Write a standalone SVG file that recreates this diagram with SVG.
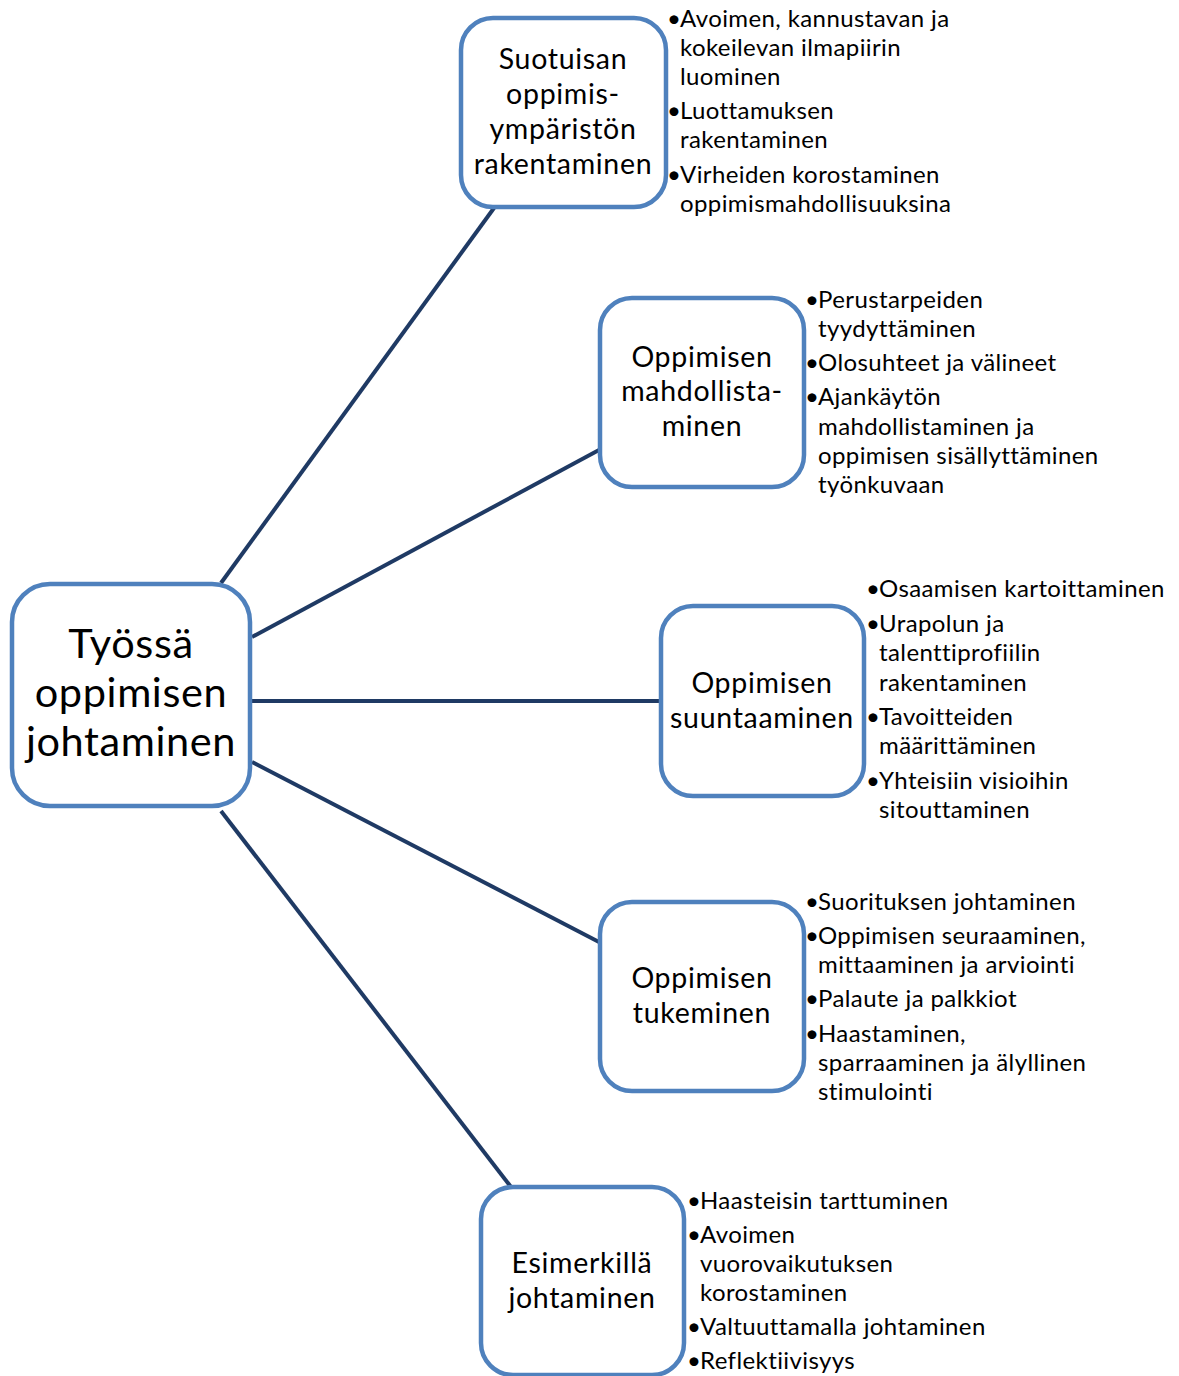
<svg xmlns="http://www.w3.org/2000/svg" width="1179" height="1376" viewBox="0 0 1179 1376">
  <style>
    .box { fill: #ffffff; stroke: #4f81bd; stroke-width: 4.5; }
    .link { stroke: #1f3a64; stroke-width: 4; fill: none; }
    .hub { font-family: Lato, "Liberation Sans", sans-serif; font-size: 41.5px; letter-spacing: 0.6px; fill: #000; text-anchor: middle; }
    .title { font-family: Lato, "Liberation Sans", sans-serif; font-size: 28.5px; letter-spacing: 0.7px; fill: #000; text-anchor: middle; }
    .item { font-family: Lato, "Liberation Sans", sans-serif; font-size: 24px; letter-spacing: 0.4px; fill: #000; }
  </style>
  <rect width="1179" height="1376" fill="#ffffff"/>

  <g id="connectors">
    <line class="link" x1="221" y1="583" x2="494" y2="208"/>
    <line class="link" x1="252" y1="637" x2="599" y2="450"/>
    <line class="link" x1="252" y1="701" x2="660" y2="701"/>
    <line class="link" x1="252" y1="762" x2="599" y2="942"/>
    <line class="link" x1="221" y1="811" x2="511" y2="1187"/>
  </g>

  <g id="hub">
    <rect class="box" x="12" y="584" width="238" height="222" rx="38"/>
    <text class="hub" x="131" y="658">Työssä</text>
    <text class="hub" x="131" y="707">oppimisen</text>
    <text class="hub" x="131" y="756">johtaminen</text>
  </g>

  <g id="node-ymparisto">
    <rect class="box" x="461" y="18" width="205" height="189" rx="32"/>
    <text class="title" x="563" y="69">Suotuisan</text>
    <text class="title" x="563" y="104">oppimis-</text>
    <text class="title" x="563" y="139">ympäristön</text>
    <text class="title" x="563" y="174">rakentaminen</text>
    <g class="item">
      <text x="667" y="27">•</text><text x="680" y="27">Avoimen, kannustavan ja</text>
      <text x="680" y="56">kokeilevan ilmapiirin</text>
      <text x="680" y="85">luominen</text>
      <text x="667" y="119">•</text><text x="680" y="119">Luottamuksen</text>
      <text x="680" y="148">rakentaminen</text>
      <text x="667" y="183">•</text><text x="680" y="183">Virheiden korostaminen</text>
      <text x="680" y="212">oppimismahdollisuuksina</text>
    </g>
  </g>

  <g id="node-mahdollistaminen">
    <rect class="box" x="600" y="298" width="204" height="189" rx="32"/>
    <text class="title" x="702" y="367">Oppimisen</text>
    <text class="title" x="702" y="401">mahdollista-</text>
    <text class="title" x="702" y="436">minen</text>
    <g class="item">
      <text x="805" y="308">•</text><text x="818" y="308">Perustarpeiden</text>
      <text x="818" y="337">tyydyttäminen</text>
      <text x="805" y="371">•</text><text x="818" y="371">Olosuhteet ja välineet</text>
      <text x="805" y="405">•</text><text x="818" y="405">Ajankäytön</text>
      <text x="818" y="435">mahdollistaminen ja</text>
      <text x="818" y="464">oppimisen sisällyttäminen</text>
      <text x="818" y="493">työnkuvaan</text>
    </g>
  </g>

  <g id="node-suuntaaminen">
    <rect class="box" x="661" y="606" width="203" height="190" rx="32"/>
    <text class="title" x="762" y="693">Oppimisen</text>
    <text class="title" x="762" y="728">suuntaaminen</text>
    <g class="item">
      <text x="866" y="597">•</text><text x="879" y="597">Osaamisen kartoittaminen</text>
      <text x="866" y="632">•</text><text x="879" y="632">Urapolun ja</text>
      <text x="879" y="661">talenttiprofiilin</text>
      <text x="879" y="691">rakentaminen</text>
      <text x="866" y="725">•</text><text x="879" y="725">Tavoitteiden</text>
      <text x="879" y="754">määrittäminen</text>
      <text x="866" y="789">•</text><text x="879" y="789">Yhteisiin visioihin</text>
      <text x="879" y="818">sitouttaminen</text>
    </g>
  </g>

  <g id="node-tukeminen">
    <rect class="box" x="600" y="902" width="204" height="189" rx="32"/>
    <text class="title" x="702" y="988">Oppimisen</text>
    <text class="title" x="702" y="1023">tukeminen</text>
    <g class="item">
      <text x="805" y="910">•</text><text x="818" y="910">Suorituksen johtaminen</text>
      <text x="805" y="944">•</text><text x="818" y="944">Oppimisen seuraaminen,</text>
      <text x="818" y="973">mittaaminen ja arviointi</text>
      <text x="805" y="1007">•</text><text x="818" y="1007">Palaute ja palkkiot</text>
      <text x="805" y="1042">•</text><text x="818" y="1042">Haastaminen,</text>
      <text x="818" y="1071">sparraaminen ja älyllinen</text>
      <text x="818" y="1100">stimulointi</text>
    </g>
  </g>

  <g id="node-esimerkki">
    <rect class="box" x="481" y="1187" width="203" height="188" rx="32"/>
    <text class="title" x="582" y="1273">Esimerkillä</text>
    <text class="title" x="582" y="1308">johtaminen</text>
    <g class="item">
      <text x="687" y="1209">•</text><text x="700" y="1209">Haasteisin tarttuminen</text>
      <text x="687" y="1243">•</text><text x="700" y="1243">Avoimen</text>
      <text x="700" y="1272">vuorovaikutuksen</text>
      <text x="700" y="1301">korostaminen</text>
      <text x="687" y="1335">•</text><text x="700" y="1335">Valtuuttamalla johtaminen</text>
      <text x="687" y="1369">•</text><text x="700" y="1369">Reflektiivisyys</text>
    </g>
  </g>
</svg>
